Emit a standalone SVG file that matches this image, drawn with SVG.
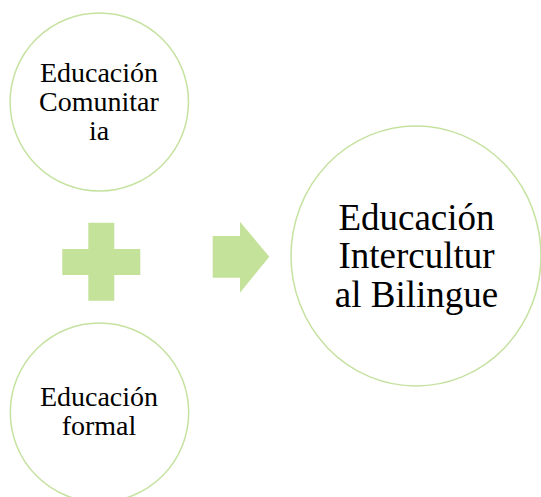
<svg xmlns="http://www.w3.org/2000/svg" width="541" height="497" viewBox="0 0 541 497">
<style>
.node{fill:#FFFFFF;stroke:#C5E2A0;stroke-width:1.5}
.sym{fill:#C5E29B;stroke:none}
.t{font-family:'Liberation Serif','Times New Roman',serif;fill:#000000;text-anchor:middle}
.s{font-size:28px}
.b{font-size:37px}
</style>
<rect width="541" height="497" fill="#FFFFFF"/>
<g id="n1">
<ellipse class="node" cx="99.3" cy="102" rx="89.2" ry="89"/>
<text class="t s" x="99" y="82">Educación</text>
<text class="t s" x="99" y="111">Comunitar</text>
<text class="t s" x="99" y="139.5">ia</text>
</g>
<g id="n2">
<ellipse class="node" cx="99.5" cy="412.5" rx="89.2" ry="89.5"/>
<text class="t s" x="99" y="406">Educación</text>
<text class="t s" x="99" y="435">formal</text>
</g>
<g id="n3">
<ellipse class="node" cx="416" cy="256" rx="125" ry="130"/>
<text class="t b" x="416.5" y="230">Educación</text>
<text class="t b" x="416.5" y="268.3">Intercultur</text>
<text class="t b" x="416.5" y="306.7">al Bilingue</text>
</g>
<g id="connectors">
<path class="sym" d="M88.3,222.7 H114.3 V249 H140.3 V275 H114.3 V300.7 H88.3 V275 H62.3 V249 H88.3 Z"/>
<path class="sym" d="M212.7,236 H240 V221.7 L269.3,256.7 L240,292.7 V277.7 H212.7 Z"/>
</g>
</svg>
